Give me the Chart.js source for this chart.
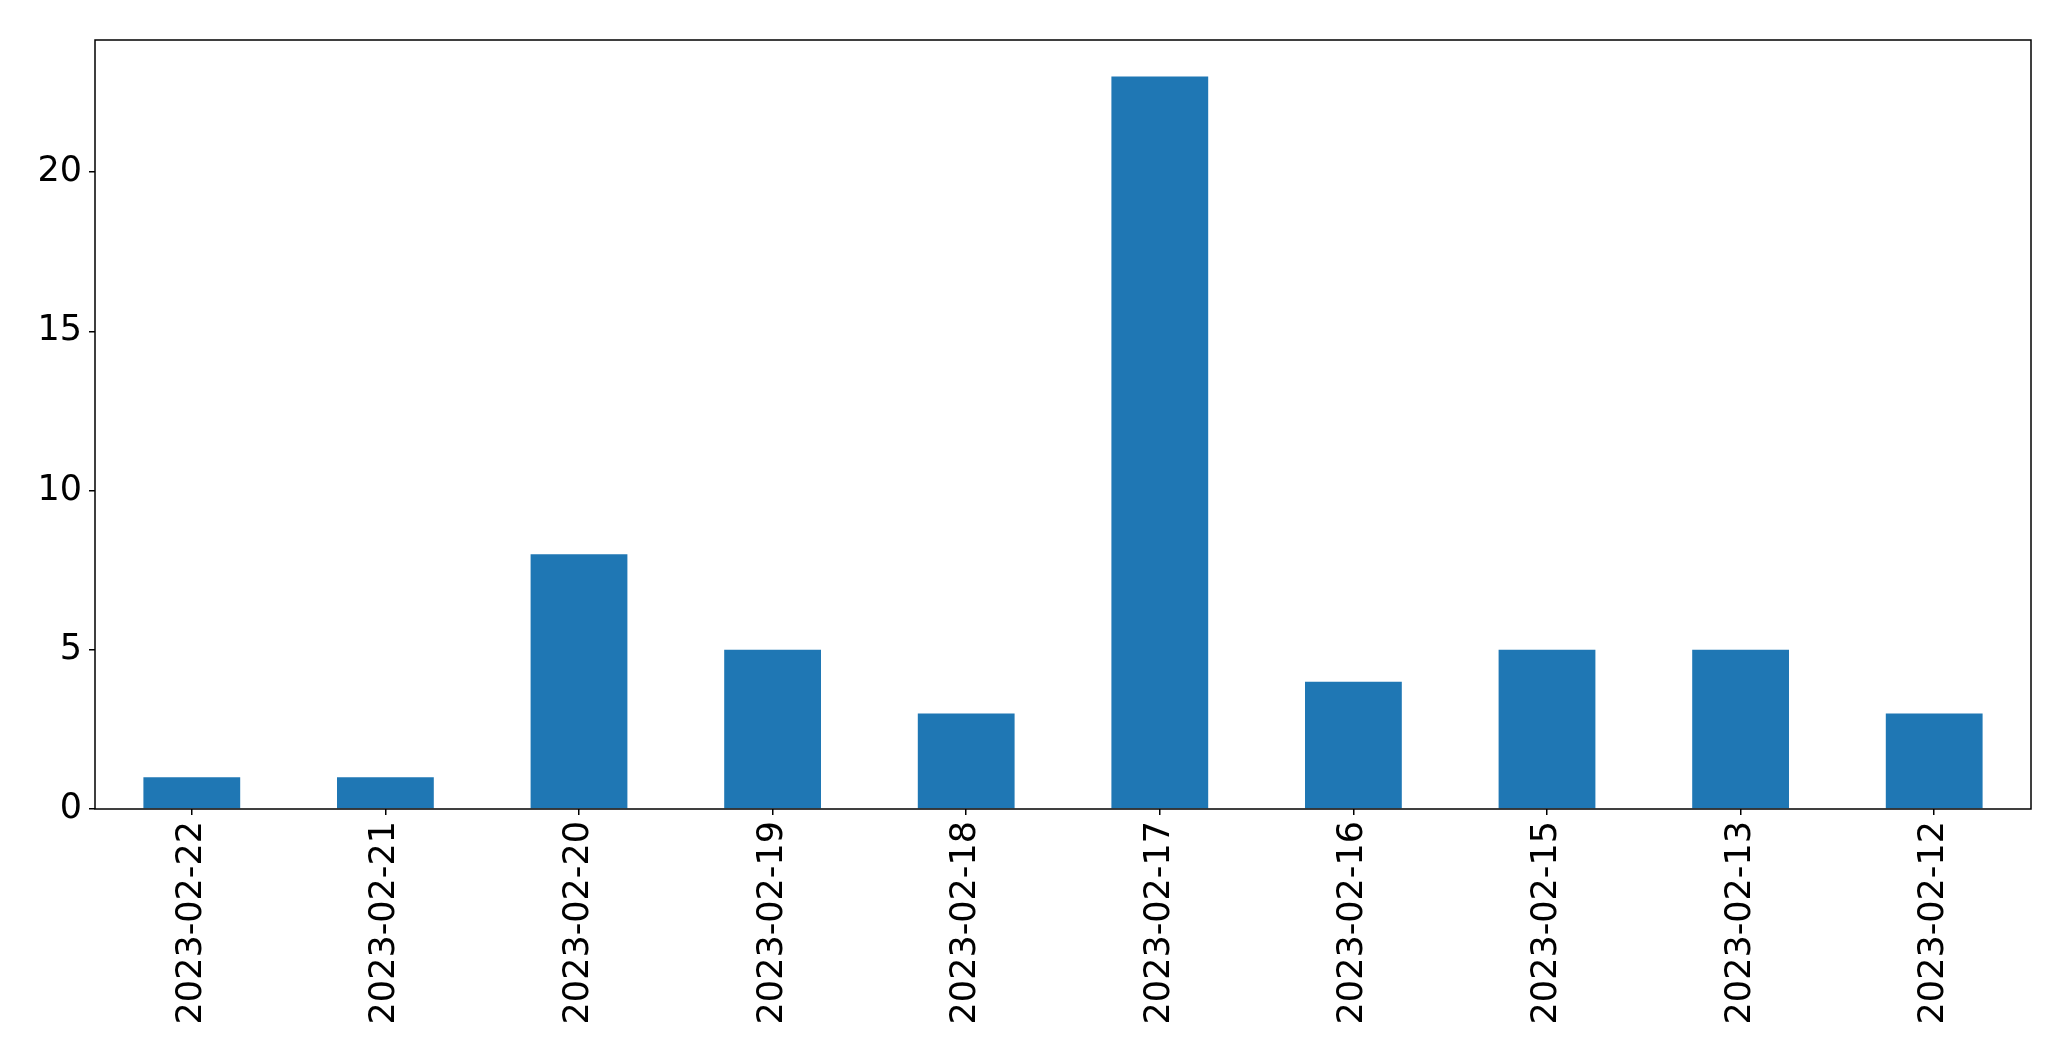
<!DOCTYPE html>
<html>
<head>
<meta charset="utf-8">
<script src="https://cdn.jsdelivr.net/npm/chart.js@4/dist/chart.umd.min.js"></script>
<style>
    html, body { margin: 0; padding: 0; background: #fff; }
    canvas { display: block; }
</style>
</head>
<body>
<canvas id="barChart" width="2071" height="1061"></canvas>
<script>
const dates = ['2023-02-22', '2023-02-21', '2023-02-20', '2023-02-19', '2023-02-18',
    '2023-02-17', '2023-02-16', '2023-02-15', '2023-02-13', '2023-02-12'];
const counts = [1, 1, 8, 5, 3, 23, 4, 5, 5, 3];
const yTicks = [0, 5, 10, 15, 20];

const frameBox = {
    id: 'frameBox',
    afterDraw(chart) {
        const { ctx, chartArea: a } = chart;
        ctx.save();
        ctx.strokeStyle = '#000';
        ctx.lineWidth = 1.5;
        ctx.strokeRect(a.left, a.top, a.right - a.left, a.bottom - a.top);
        ctx.restore();
    }
};

const ctx = document.getElementById('barChart').getContext('2d');

new Chart(ctx, {
    type: 'bar',
    data: {
        labels: dates,
        datasets: [{
            data: counts,
            backgroundColor: '#1f77b4',
            borderWidth: 0,
            categoryPercentage: 1.0,
            barPercentage: 0.5
        }]
    },
    options: {
        responsive: false,
        animation: false,
        layout: { padding: { top: 40, right: 40, left: 0, bottom: 0 } },
        plugins: {
            legend: { display: false },
            tooltip: { enabled: false }
        },
        scales: {
            x: {
                offset: true,
                grid: {
                    offset: false,
                    drawOnChartArea: false,
                    color: '#000',
                    lineWidth: 1.5,
                    tickLength: 6
                },
                border: { display: false },
                ticks: {
                    color: '#000',
                    font: { family: 'DejaVu Sans', size: 35 },
                    minRotation: 90,
                    maxRotation: 90,
                    padding: 6,
                    autoSkip: false
                },
                afterFit: scale => { scale.height = 252; }
            },
            y: {
                min: 0,
                max: 24.15,
                afterBuildTicks: scale => {
                    scale.ticks = yTicks.map(v => ({ value: v }));
                },
                grid: {
                    drawOnChartArea: false,
                    color: '#000',
                    lineWidth: 1.5,
                    tickLength: 6
                },
                border: { display: false },
                ticks: {
                    color: '#000',
                    font: { family: 'DejaVu Sans', size: 35 },
                    padding: 7
                },
                afterFit: scale => { scale.width = 95; }
            }
        }
    },
    plugins: [frameBox]
});
</script>
</body>
</html>
